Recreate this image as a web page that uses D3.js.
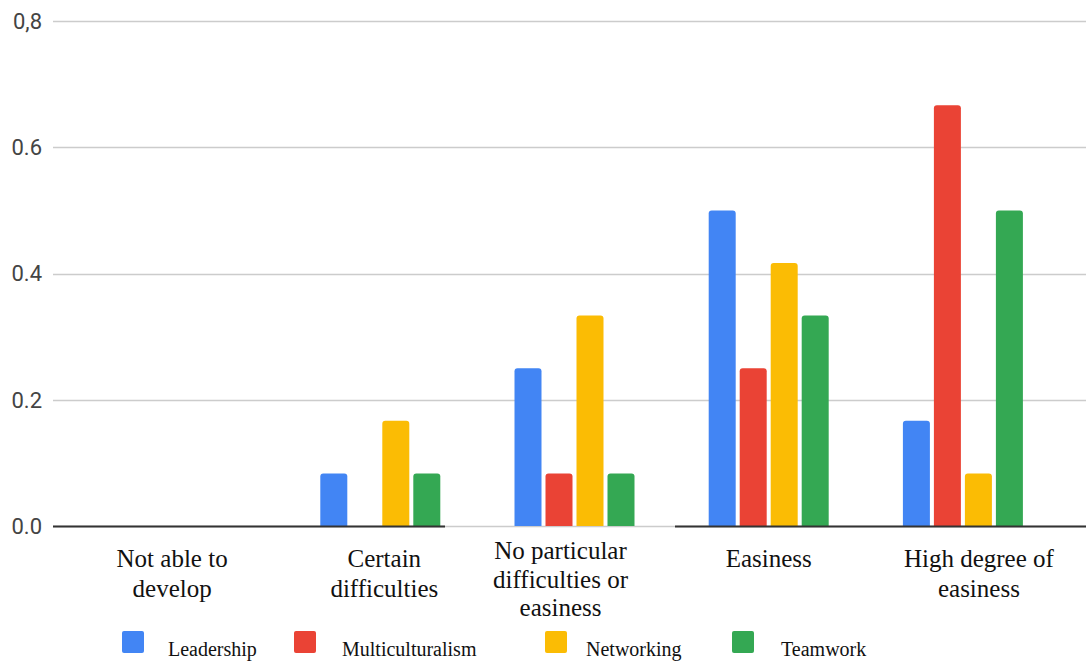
<!DOCTYPE html>
<html>
<head>
<meta charset="utf-8">
<script src="https://cdn.jsdelivr.net/npm/d3@7"></script>
<style>
  html, body { margin: 0; padding: 0; background: #fff; }
  svg { display: block; }
  .serif { font-family: "Liberation Serif", Tinos, "Times New Roman", Times, "DejaVu Serif", serif; }
  .sans { font-family: Roboto, "Liberation Sans", Arial, sans-serif; }
</style>
</head>
<body>
<svg id="chart" width="1086" height="661"></svg>
<script>
// Share of respondents per level of ease, by competence
const categories = [
  ["Not able to", "develop"],
  ["Certain", "difficulties"],
  ["No particular", "difficulties or", "easiness"],
  ["Easiness"],
  ["High degree of", "easiness"]
];
const seriesNames = ["Leadership", "Multiculturalism", "Networking", "Teamwork"];
const leadership       = [0, 1/12, 3/12, 6/12, 2/12];
const multiculturalism = [0, 0,    1/12, 3/12, 8/12];
const networking       = [0, 2/12, 4/12, 5/12, 1/12];
const teamwork         = [0, 1/12, 1/12, 4/12, 6/12];
const yTicks      = [0, 0.2, 0.4, 0.6, 0.8];
const yTickLabels = ["0.0", "0.2", "0.4", "0.6", "0,8"];

const seriesValues = [leadership, multiculturalism, networking, teamwork];
const colors = ["#4285F4", "#EA4335", "#FBBC04", "#34A853"];

const svg = d3.select("#chart");

const gridLeft = 53, gridRight = 1086;
const x0 = d3.scaleBand().domain(d3.range(categories.length)).range([89, 1060]).padding(0);
const x1 = d3.scaleBand().domain(seriesNames).range([0, 120]).paddingInner(4 / 31).paddingOuter(0);
const y = d3.scaleLinear().domain([0, 0.8]).range([526, 21]);

// Gridlines
svg.append("g").selectAll("line")
  .data(yTicks)
  .join("line")
  .attr("x1", gridLeft).attr("x2", gridRight)
  .attr("y1", d => Math.round(y(d)) + 0.5).attr("y2", d => Math.round(y(d)) + 0.5)
  .attr("stroke", "#cccccc").attr("stroke-width", 1.5);

// Y tick labels
svg.append("g").selectAll("text")
  .data(yTicks)
  .join("text")
  .attr("class", "sans")
  .attr("x", 42)
  .attr("y", d => y(d))
  .attr("dy", "0.36em")
  .attr("text-anchor", "end")
  .attr("font-size", 22)
  .attr("fill", "#444")
  .text((d, i) => yTickLabels[i]);

// Bars with rounded tops
function topRounded(x, yTop, w, h, r) {
  if (h <= 0) return "";
  r = Math.min(r, h, w / 2);
  return `M${x},${yTop + h}V${yTop + r}Q${x},${yTop} ${x + r},${yTop}H${x + w - r}Q${x + w},${yTop} ${x + w},${yTop + r}V${yTop + h}Z`;
}

const groups = svg.append("g").selectAll("g")
  .data(categories.map((c, i) => i))
  .join("g")
  .attr("transform", i => `translate(${x0(i) + x0.bandwidth() / 2 - 60},0)`);

groups.selectAll("path")
  .data(i => seriesNames.map((s, k) => ({ s, k, v: seriesValues[k][i] })))
  .join("path")
  .attr("d", d => topRounded(x1(d.s), y(d.v), x1.bandwidth(), y(0) - y(d.v), 3))
  .attr("fill", d => colors[d.k]);

// Baseline axis segments
const baselineSegments = [[53, 445], [675, 1086]];
svg.append("g").selectAll("line")
  .data(baselineSegments)
  .join("line")
  .attr("x1", d => d[0]).attr("x2", d => d[1])
  .attr("y1", y(0) + 0.5).attr("y2", y(0) + 0.5)
  .attr("stroke", "#333").attr("stroke-width", 2);

// Category labels
const labelNudge = [-14, 4, -14, 0, 16];
const labels = svg.append("g").selectAll("text")
  .data(categories.map((c, i) => i))
  .join("text")
  .attr("class", "serif")
  .attr("text-anchor", "middle")
  .attr("font-size", 25)
  .attr("fill", "#111")
  .attr("transform", i => `translate(${x0(i) + x0.bandwidth() / 2 + labelNudge[i]},${categories[i].length > 2 ? 559 : 567})`);

labels.selectAll("tspan")
  .data(i => categories[i].map((line, j) => ({ line, j, n: categories[i].length })))
  .join("tspan")
  .attr("x", 0)
  .attr("y", d => d.j * (d.n > 2 ? 28.5 : 30))
  .text(d => d.line);

// Legend
const legendSquareX = [122, 294, 545, 732];
const legendTextX   = [168, 342, 586, 781];
const legend = svg.append("g");
legend.selectAll("rect")
  .data(seriesNames)
  .join("rect")
  .attr("x", (d, i) => legendSquareX[i])
  .attr("y", 631)
  .attr("width", 22).attr("height", 22)
  .attr("rx", 2)
  .attr("fill", (d, i) => colors[i]);
legend.selectAll("text")
  .data(seriesNames)
  .join("text")
  .attr("class", "serif")
  .attr("x", (d, i) => legendTextX[i])
  .attr("y", 656)
  .attr("font-size", 20)
  .attr("fill", "#111")
  .text(d => d);
</script>
</body>
</html>
